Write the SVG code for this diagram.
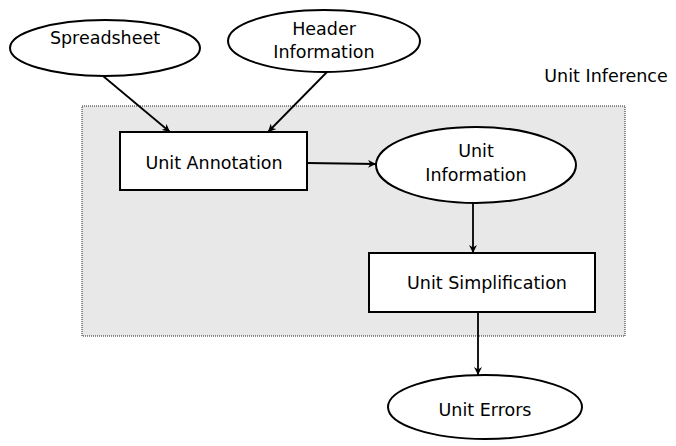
<svg xmlns="http://www.w3.org/2000/svg" width="676" height="446" viewBox="0 0 676 446">
<style>
text{font-family:"DejaVu Sans","Liberation Sans",sans-serif;font-size:17.5px;fill:#000;text-anchor:middle;dominant-baseline:central}
.n{fill:#fff;stroke:#000;stroke-width:2}
.c{stroke:#000;stroke-width:1.8;fill:none}
</style>
<defs>
<marker id="ah" viewBox="0 0 10 10" refX="10" refY="5" markerWidth="8" markerHeight="8" orient="auto" markerUnits="userSpaceOnUse">
<path d="M0,0 L10,5 L0,10 L3,5 Z" fill="#000"/>
</marker>
</defs>
<g id="unit-inference">
<rect x="82" y="106" width="543" height="230" fill="#e8e8e8" stroke="#222" stroke-width="1" stroke-dasharray="1 1"/>
<text x="606" y="76">Unit Inference</text>
</g>
<g id="connectors">
<line class="c" x1="103" y1="76" x2="170" y2="132" marker-end="url(#ah)"/>
<line class="c" x1="327" y1="72" x2="268" y2="132" marker-end="url(#ah)"/>
<line class="c" x1="307" y1="163" x2="376" y2="164" marker-end="url(#ah)"/>
<line class="c" x1="473" y1="202" x2="473" y2="253" marker-end="url(#ah)"/>
<line class="c" x1="478" y1="312" x2="478" y2="375" marker-end="url(#ah)"/>
</g>
<g id="spreadsheet">
<ellipse class="n" cx="105" cy="48" rx="95" ry="28"/>
<text x="105" y="38">Spreadsheet</text>
</g>
<g id="header-information">
<ellipse class="n" cx="324" cy="41" rx="96" ry="31"/>
<text x="324" y="29">Header</text>
<text x="324" y="52">Information</text>
</g>
<g id="unit-annotation">
<rect class="n" x="120" y="132" width="187" height="58"/>
<text x="214" y="163">Unit Annotation</text>
</g>
<g id="unit-information">
<ellipse class="n" cx="476" cy="165" rx="100" ry="38"/>
<text x="476" y="151">Unit</text>
<text x="476" y="175">Information</text>
</g>
<g id="unit-simplification">
<rect class="n" x="369" y="253" width="226" height="59"/>
<text x="487" y="283">Unit Simplification</text>
</g>
<g id="unit-errors">
<ellipse class="n" cx="485" cy="407" rx="97" ry="32"/>
<text x="485" y="410">Unit Errors</text>
</g>
</svg>
